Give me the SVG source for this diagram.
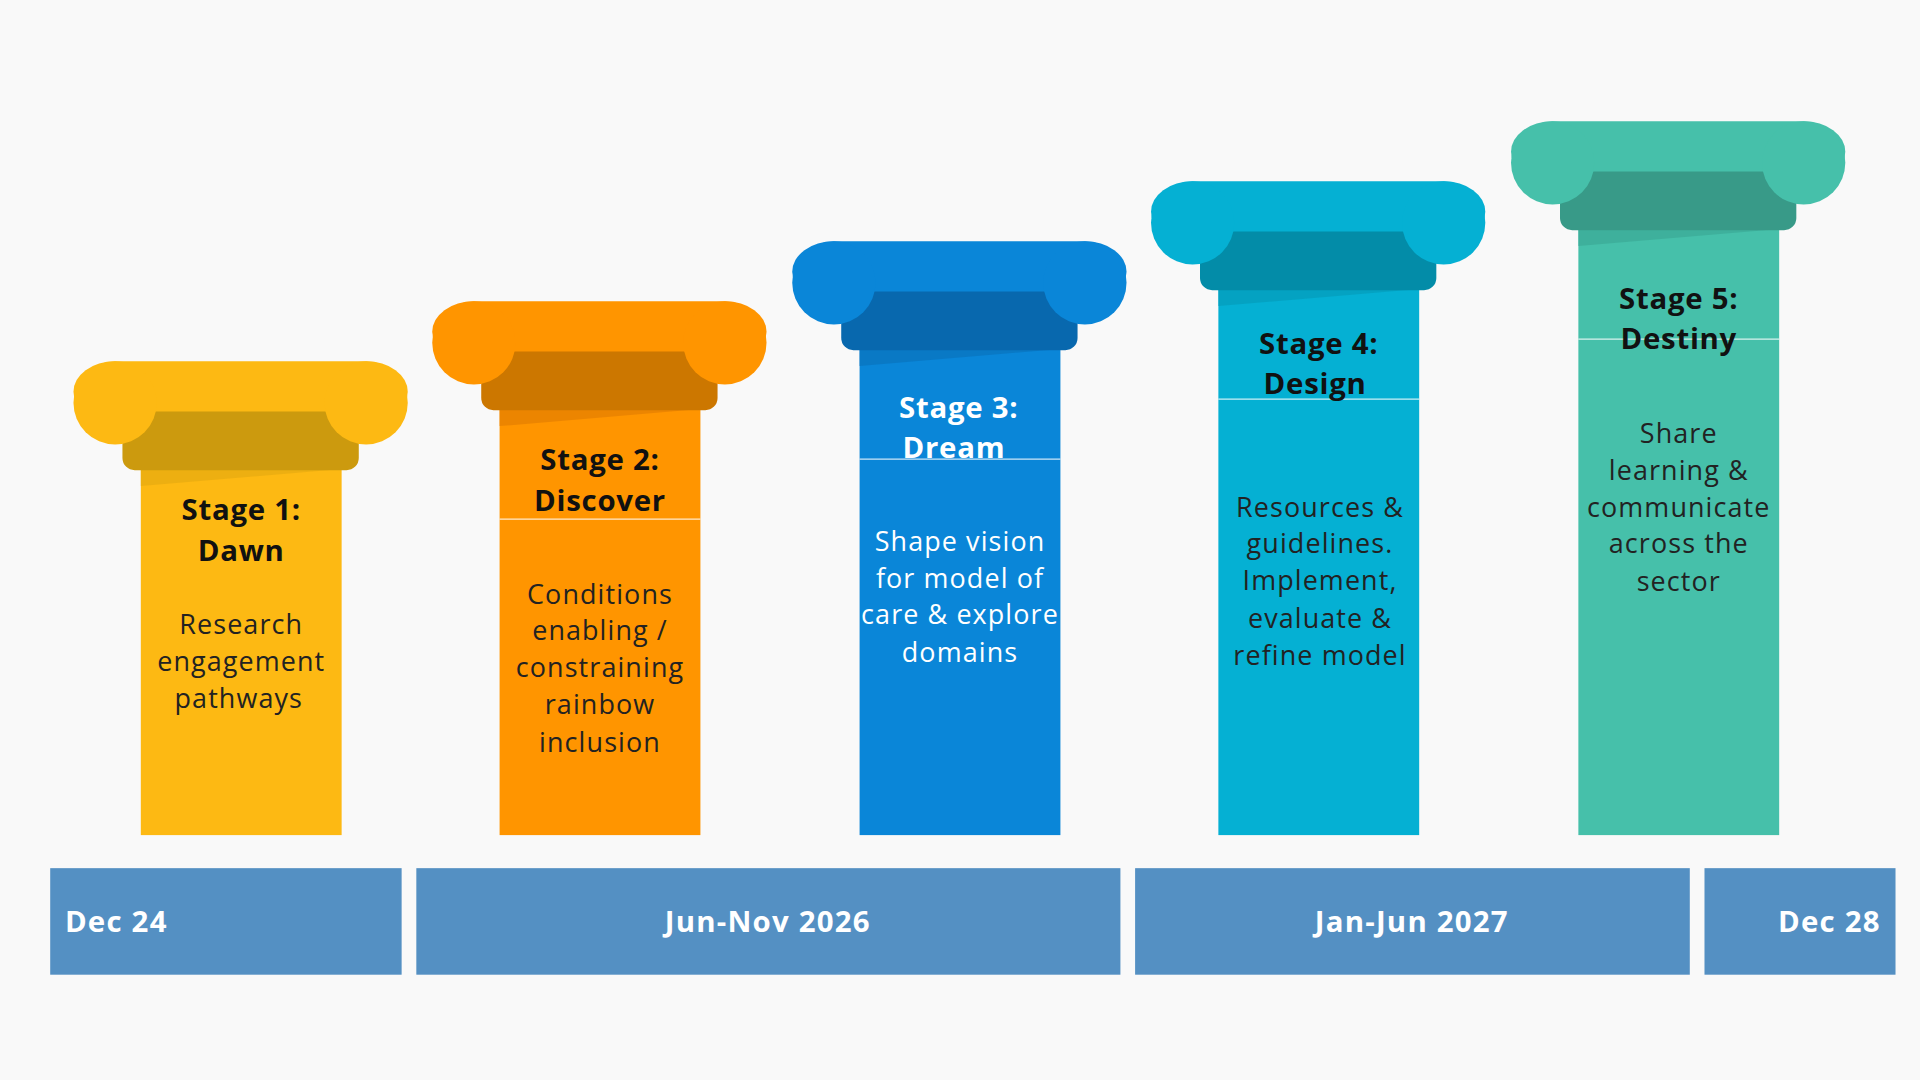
<svg xmlns="http://www.w3.org/2000/svg" width="1920" height="1080" viewBox="0 0 1920 1080">
<style>
.t{font-family:"Open Sans","Liberation Sans",sans-serif;font-weight:700;font-size:24px;letter-spacing:0.6px;fill:#111;text-anchor:middle}
.b{font-family:"Open Sans","Liberation Sans",sans-serif;font-size:22px;letter-spacing:0.9px;fill:#222;text-anchor:middle}
.d{font-family:"Open Sans","Liberation Sans",sans-serif;font-weight:700;font-size:24px;letter-spacing:1px;fill:#fff}
.sep{stroke:#fff;stroke-width:1;opacity:0.8}
.w{fill:#fff}
</style>
<rect width="1920" height="1080" fill="#F9F9F9"/>
<g transform="scale(1.22449)">
<g id="pillar1">
<rect x="115" y="380" width="164" height="302" fill="#FDB913"/>
<polygon points="115,383 279,383 115,397" fill="#E3A811" opacity="0.6"/>
<rect x="60" y="295" width="273" height="50" rx="34" fill="#FDB913"/>
<rect x="100" y="336" width="193" height="48" rx="10" fill="#CC9A0E"/>
<circle cx="94" cy="329" r="34" fill="#FDB913"/><circle cx="299" cy="329" r="34" fill="#FDB913"/>
<text class="t" x="197" y="425">Stage 1:</text><text class="t" x="197" y="458">Dawn</text>
<text class="b" x="197" y="518">Research</text><text class="b" x="197" y="548">engagement</text><text class="b" x="195" y="578">pathways</text>
</g>
<g id="pillar2">
<rect x="408" y="331" width="164" height="351" fill="#FF9500"/>
<polygon points="408,334 572,334 408,348" fill="#E47F00" opacity="0.7"/>
<rect x="353" y="246" width="273" height="50" rx="34" fill="#FF9500"/>
<rect x="393" y="287" width="193" height="48" rx="10" fill="#CC7700"/>
<circle cx="387" cy="280" r="34" fill="#FF9500"/><circle cx="592" cy="280" r="34" fill="#FF9500"/>
<line class="sep" x1="408" y1="424" x2="572" y2="424"/>
<text class="t" x="490" y="384">Stage 2:</text><text class="t" x="490" y="417">Discover</text>
<text class="b" x="490" y="493">Conditions</text><text class="b" x="490" y="523">enabling /</text><text class="b" x="490" y="553">constraining</text><text class="b" x="490" y="583">rainbow</text><text class="b" x="490" y="614">inclusion</text>
</g>
<g id="pillar3">
<rect x="702" y="282" width="164" height="400" fill="#0A86D8"/>
<polygon points="702,285 866,285 702,299" fill="#0874BE" opacity="0.7"/>
<rect x="647" y="197" width="273" height="50" rx="34" fill="#0A86D8"/>
<rect x="687" y="238" width="193" height="48" rx="10" fill="#0868AE"/>
<circle cx="681" cy="231" r="34" fill="#0A86D8"/><circle cx="886" cy="231" r="34" fill="#0A86D8"/>
<line class="sep" x1="702" y1="375" x2="866" y2="375"/>
<text class="t w" x="783" y="341" style="fill:#fff">Stage 3:</text><text class="t" x="779" y="374" style="fill:#fff">Dream</text>
<text class="b" x="784" y="450" style="fill:#fff">Shape vision</text><text class="b" x="784" y="480" style="fill:#fff">for model of</text><text class="b" x="784" y="510" style="fill:#fff">care &amp; explore</text><text class="b" x="784" y="541" style="fill:#fff">domains</text>
</g>
<g id="pillar4">
<rect x="995" y="233" width="164" height="449" fill="#05B0D3"/>
<polygon points="995,236 1159,236 995,250" fill="#049CBB" opacity="0.7"/>
<rect x="940" y="148" width="273" height="50" rx="34" fill="#05B0D3"/>
<rect x="980" y="189" width="193" height="48" rx="10" fill="#038CA8"/>
<circle cx="974" cy="182" r="34" fill="#05B0D3"/><circle cx="1179" cy="182" r="34" fill="#05B0D3"/>
<line class="sep" x1="995" y1="326" x2="1159" y2="326"/>
<text class="t" x="1077" y="289">Stage 4:</text><text class="t" x="1074" y="322">Design</text>
<text class="b" x="1078" y="422">Resources &amp;</text><text class="b" x="1078" y="452">guidelines.</text><text class="b" x="1078" y="482">Implement,</text><text class="b" x="1078" y="513">evaluate &amp;</text><text class="b" x="1078" y="543">refine model</text>
</g>
<g id="pillar5">
<rect x="1289" y="184" width="164" height="498" fill="#46C0AA"/>
<polygon points="1289,187 1453,187 1289,201" fill="#3AAA95" opacity="0.7"/>
<rect x="1234" y="99" width="273" height="50" rx="34" fill="#46C0AA"/>
<rect x="1274" y="140" width="193" height="48" rx="10" fill="#389A88"/>
<circle cx="1268" cy="133" r="34" fill="#46C0AA"/><circle cx="1473" cy="133" r="34" fill="#46C0AA"/>
<line class="sep" x1="1289" y1="277" x2="1453" y2="277"/>
<text class="t" x="1371" y="252">Stage 5:</text><text class="t" x="1371" y="285">Destiny</text>
<text class="b" x="1371" y="362">Share</text><text class="b" x="1371" y="392">learning &amp;</text><text class="b" x="1371" y="422">communicate</text><text class="b" x="1371" y="452">across the</text><text class="b" x="1371" y="483">sector</text>
</g>
<g id="timeline">
<rect x="41" y="709" width="287" height="87" fill="#5490C3"/>
<rect x="340" y="709" width="575" height="87" fill="#5490C3"/>
<rect x="927" y="709" width="453" height="87" fill="#5490C3"/>
<rect x="1392" y="709" width="156" height="87" fill="#5490C3"/>
<text class="d" x="53" y="761">Dec 24</text>
<text class="d" x="627" y="761" text-anchor="middle">Jun-Nov 2026</text>
<text class="d" x="1153" y="761" text-anchor="middle">Jan-Jun 2027</text>
<text class="d" x="1536" y="761" text-anchor="end">Dec 28</text>
</g>
</g>
</svg>
